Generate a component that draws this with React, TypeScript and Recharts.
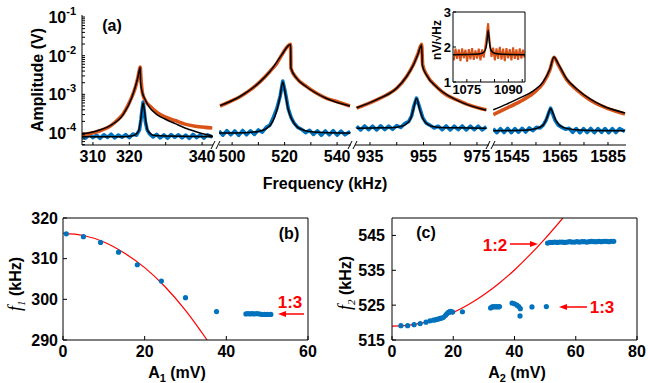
import { ComposedChart, Line, LineChart, Scatter, XAxis, YAxis } from "recharts"

const FONT = '"Liberation Sans", Arial, Helvetica, sans-serif'
const ORANGE = "#D95319"
const BLUE = "#0072BD"
const RED = "#FF0000"

// ---- (a) spectra, four frequency windows ----
const p1OrangeFreq = [307.0, 308.6, 310.6, 312.5, 314.7, 316.6, 318.3, 319.6, 320.7, 321.6, 322.3, 322.7, 323.0, 323.2, 323.6, 324.3, 325.7, 327.6, 329.8, 332.6, 335.3, 338.1, 340.8, 342.8]
const p1OrangeAmp = [9.0e-5, 9.5e-5, 1.05e-4, 1.2e-4, 1.5e-4, 2.1e-4, 3.1e-4, 5.1e-4, 8.6e-4, 1.45e-3, 2.6e-3, 4.0e-3, 5.1e-3, 2.6e-3, 1.1e-3, 7.2e-4, 4.9e-4, 3.4e-4, 2.6e-4, 2.1e-4, 1.7e-4, 1.5e-4, 1.4e-4, 1.35e-4]
const p1OrangeFitFreq = [307.0, 310.6, 314.7, 318.3, 320.7, 322.3, 323.0, 323.1, 323.6, 324.3, 325.7, 327.6, 329.8, 332.6, 335.3, 338.1, 340.8, 342.8]
const p1OrangeFitAmp = [9.5e-5, 1.1e-4, 1.55e-4, 3.0e-4, 8.3e-4, 2.6e-3, 5.0e-3, 2.0e-3, 1.1e-3, 7.5e-4, 4.4e-4, 3.0e-4, 2.3e-4, 1.75e-4, 1.35e-4, 1.1e-4, 9.3e-5, 8.5e-5]
const p1BlueFreq = [307.0, 308.0, 309.0, 310.0, 311.0, 312.0, 313.0, 314.0, 315.0, 316.0, 317.0, 318.0, 319.0, 320.0, 321.0, 322.0, 322.8, 323.2, 323.5, 323.8, 324.1, 324.4, 324.9, 325.5, 326.5, 327.5, 328.5, 329.5, 330.5, 331.5, 332.5, 333.5, 334.5, 335.5, 336.5, 337.5, 338.5, 339.5, 340.5, 341.5, 342.8]
const p1BlueAmp = [8.6e-5, 7.4e-5, 9.2e-5, 7.6e-5, 8.8e-5, 7.3e-5, 9.0e-5, 7.7e-5, 9.3e-5, 7.5e-5, 8.9e-5, 7.8e-5, 9.1e-5, 7.6e-5, 9.4e-5, 8.8e-5, 1.2e-4, 2.2e-4, 4.0e-4, 6.3e-4, 3.8e-4, 2.0e-4, 1.2e-4, 9.6e-5, 7.9e-5, 9.2e-5, 7.5e-5, 8.9e-5, 7.4e-5, 9.1e-5, 7.7e-5, 9.0e-5, 7.5e-5, 8.8e-5, 7.3e-5, 9.2e-5, 7.6e-5, 8.9e-5, 7.4e-5, 9.0e-5, 7.8e-5]
const p1BlueFitFreq = [307, 318, 321, 322.5, 323, 323.4, 323.8, 324.2, 324.6, 325.2, 327, 343]
const p1BlueFitAmp = [8e-5, 8e-5, 8.5e-5, 1.1e-4, 1.8e-4, 3.5e-4, 6.0e-4, 3.5e-4, 1.8e-4, 1.1e-4, 8.6e-5, 8e-5]

const p2OrangeFreq = [495.4, 499.2, 503.0, 506.8, 510.6, 514.4, 517.0, 518.9, 520.5, 521.8, 522.3, 522.4, 524.6, 528.4, 532.2, 536.0, 539.8, 544.9]
const p2OrangeAmp = [5.0e-4, 6.5e-4, 8.7e-4, 1.29e-3, 2.1e-3, 3.9e-3, 6.3e-3, 1.04e-2, 1.55e-2, 1.9e-2, 1.96e-2, 4.7e-3, 2.6e-3, 1.58e-3, 1.07e-3, 7.9e-4, 6.5e-4, 5.0e-4]
const p2OrangeFitFreq = [495.4, 503.0, 510.6, 514.4, 518.9, 521.8, 522.3, 522.4, 524.6, 528.4, 536.0, 544.9]
const p2OrangeFitAmp = [5.1e-4, 8.8e-4, 2.1e-3, 3.9e-3, 1.05e-2, 1.9e-2, 1.95e-2, 4.8e-3, 2.6e-3, 1.55e-3, 7.8e-4, 5.0e-4]
const p2BlueFreq = [495, 496.5, 498, 499.5, 501, 502.5, 504, 505.5, 507, 508.5, 510, 511.5, 513, 514.4, 515.8, 517, 518.3, 519.3, 520.2, 521.4, 522.5, 523.5, 525, 526.5, 528, 529.5, 531, 532.5, 534, 535.5, 537, 538.5, 540, 541.5, 543, 545]
const p2BlueAmp = [1.12e-4, 0.88e-4, 1.15e-4, 0.9e-4, 1.13e-4, 0.87e-4, 1.16e-4, 0.9e-4, 1.14e-4, 0.92e-4, 1.2e-4, 1.05e-4, 1.4e-4, 1.6e-4, 2.6e-4, 4.2e-4, 9e-4, 2.2e-3, 1.2e-3, 4.2e-4, 2.5e-4, 1.85e-4, 1.4e-4, 1.25e-4, 1.02e-4, 1.18e-4, 0.92e-4, 1.14e-4, 0.88e-4, 1.13e-4, 0.9e-4, 1.15e-4, 0.88e-4, 1.12e-4, 0.9e-4, 1.1e-4]
const p2BlueFitFreq = [495, 505, 510, 513, 515.5, 517, 518.3, 519.3, 520.2, 521.4, 523, 525, 528, 535, 545]
const p2BlueFitAmp = [1e-4, 1.02e-4, 1.1e-4, 1.3e-4, 2.0e-4, 3.8e-4, 9e-4, 2.1e-3, 1.1e-3, 4e-4, 2.1e-4, 1.4e-4, 1.15e-4, 1.03e-4, 1.0e-4]

const p3OrangeFreq = [930.0, 933.8, 937.5, 941.2, 945.0, 948.7, 951.2, 953.0, 954.3, 954.7, 956.2, 959.9, 963.6, 967.4, 971.1, 976.0, 978.5]
const p3OrangeAmp = [4.4e-4, 5.6e-4, 7.2e-4, 9.6e-4, 1.44e-3, 2.9e-3, 5.8e-3, 1.15e-2, 1.96e-2, 5.8e-3, 3.2e-3, 1.58e-3, 9.6e-4, 7.2e-4, 5.6e-4, 4.4e-4, 4.0e-4]
const p3OrangeFitFreq = [930.0, 937.5, 945.0, 948.7, 951.2, 953.0, 954.3, 954.6, 956.2, 959.9, 967.4, 978.5]
const p3OrangeFitAmp = [4.5e-4, 7.3e-4, 1.45e-3, 2.9e-3, 5.7e-3, 1.12e-2, 1.9e-2, 5.6e-3, 3.1e-3, 1.55e-3, 7.1e-4, 3.9e-4]
const p3BlueFreq = [930, 931.5, 933, 934.5, 936, 937.5, 939, 940.5, 942, 943.5, 945, 946.5, 948, 949.5, 950.6, 951.4, 952.4, 953.4, 954.7, 956, 957.4, 959, 960.5, 962, 963.5, 965, 966.5, 968, 969.5, 971, 972.5, 974, 975.5, 977, 978.5]
const p3BlueAmp = [1.5e-4, 1.2e-4, 1.52e-4, 1.22e-4, 1.5e-4, 1.2e-4, 1.53e-4, 1.23e-4, 1.5e-4, 1.25e-4, 1.55e-4, 1.4e-4, 1.75e-4, 2.0e-4, 2.8e-4, 5e-4, 8e-4, 5e-4, 2.5e-4, 1.8e-4, 1.6e-4, 1.35e-4, 1.5e-4, 1.22e-4, 1.52e-4, 1.2e-4, 1.5e-4, 1.23e-4, 1.52e-4, 1.2e-4, 1.5e-4, 1.22e-4, 1.5e-4, 1.2e-4, 1.45e-4]
const p3BlueFitFreq = [930, 940, 945, 948, 950, 951.2, 952.4, 953.6, 955, 957, 960, 968, 978.5]
const p3BlueFitAmp = [1.33e-4, 1.36e-4, 1.42e-4, 1.6e-4, 2.2e-4, 4e-4, 7.8e-4, 4e-4, 2.2e-4, 1.6e-4, 1.42e-4, 1.36e-4, 1.33e-4]

const p4OrangeFreq = [1537.2, 1542.8, 1548.3, 1553.9, 1558.0, 1560.8, 1562.5, 1564.3, 1567.8, 1572.0, 1577.5, 1583.0, 1592.1]
const p4OrangeAmp = [3.0e-4, 4.4e-4, 6.5e-4, 1.07e-3, 1.95e-3, 4.3e-3, 9.1e-3, 5.8e-3, 2.4e-3, 1.3e-3, 7.2e-4, 4.8e-4, 3.1e-4]
const p4OrangeFitAmp = [4.0e-4, 5.6e-4, 8.1e-4, 1.23e-3, 2.1e-3, 4.5e-3, 9.3e-3, 6.1e-3, 2.5e-3, 1.38e-3, 7.6e-4, 5.0e-4, 3.3e-4]
const p4BlueFreq = [1537.2, 1538.7, 1540.2, 1541.7, 1543.2, 1544.7, 1546.2, 1547.7, 1549.2, 1550.7, 1552.2, 1553.7, 1555.2, 1556.7, 1558, 1559.3, 1560.2, 1561.1, 1562, 1563, 1564.3, 1565.8, 1567.3, 1568.8, 1570.3, 1571.8, 1573.3, 1574.8, 1576.3, 1577.8, 1579.3, 1580.8, 1582.3, 1583.8, 1585.3, 1586.8, 1588.3, 1589.8, 1592]
const p4BlueAmp = [1.3e-4, 1.02e-4, 1.3e-4, 1.03e-4, 1.32e-4, 1.02e-4, 1.3e-4, 1.05e-4, 1.32e-4, 1.06e-4, 1.35e-4, 1.15e-4, 1.4e-4, 1.35e-4, 1.6e-4, 2.2e-4, 3.2e-4, 4.4e-4, 3.1e-4, 2.1e-4, 1.6e-4, 1.4e-4, 1.25e-4, 1.32e-4, 1.04e-4, 1.3e-4, 1.02e-4, 1.3e-4, 1.03e-4, 1.31e-4, 1.02e-4, 1.3e-4, 1.04e-4, 1.3e-4, 1.02e-4, 1.3e-4, 1.03e-4, 1.3e-4, 1.1e-4]
const p4BlueFitFreq = [1537.2, 1550, 1555, 1558, 1559.5, 1560.5, 1561.1, 1561.8, 1563, 1565, 1568, 1575, 1592]
const p4BlueFitAmp = [1.15e-4, 1.18e-4, 1.3e-4, 1.6e-4, 2.4e-4, 3.6e-4, 4.3e-4, 3.6e-4, 2.3e-4, 1.55e-4, 1.3e-4, 1.18e-4, 1.15e-4]

// inset noise spectrum (nV/sqrt(Hz))
const insetFreq = [1070.3, 1070.9, 1071.5, 1072.1, 1072.7, 1073.3, 1073.9, 1074.5, 1075.1, 1075.7, 1076.3, 1076.9, 1077.5, 1078.1, 1078.7, 1079.3, 1079.9, 1080.5, 1081.1, 1081.6, 1082.0, 1082.4, 1082.7, 1083.0, 1083.4, 1083.9, 1084.5, 1085.1, 1085.7, 1086.3, 1086.9, 1087.5, 1088.1, 1088.7, 1089.3, 1089.9, 1090.5, 1091.1, 1091.7, 1092.3, 1092.9, 1093.5, 1094.1, 1094.7, 1095.3, 1095.8]
const insetNoise = [1.62, 1.95, 1.66, 1.93, 1.6, 1.96, 1.68, 1.92, 1.58, 1.94, 1.65, 1.97, 1.63, 1.9, 1.67, 1.95, 1.62, 1.93, 1.7, 1.98, 2.2, 2.5, 2.68, 2.35, 2.05, 1.72, 1.98, 1.62, 1.96, 1.66, 2.0, 1.64, 1.95, 1.6, 1.97, 1.68, 1.94, 1.62, 1.99, 1.66, 1.93, 1.63, 1.96, 1.67, 1.92, 1.7]
const insetFitFreq = [1070, 1078, 1080.5, 1081.6, 1082.2, 1082.7, 1083.2, 1083.8, 1085, 1088, 1096]
const insetFit = [1.78, 1.79, 1.82, 1.9, 2.1, 2.48, 2.1, 1.9, 1.82, 1.79, 1.78]

// ---- (b) f1 vs A1 ----
const bA = [0.8, 5, 9.2, 13.6, 18.2, 24.1, 30, 37.6, 44.8, 45.3, 45.8, 46.3, 46.8, 47.4, 48.0, 48.7, 49.4, 50.1, 50.9]
const bF = [316.1, 315.4, 314.0, 311.6, 308.5, 304.5, 300.4, 297.0, 296.4, 296.5, 296.4, 296.5, 296.4, 296.5, 296.4, 296.3, 296.3, 296.3, 296.3]
const bFitA = [0, 5, 10, 15, 20, 25, 30, 35.3]
const bFitF = [316.2, 315.7, 314.1, 311.4, 307.8, 303.1, 297.3, 290.0]

// ---- (c) f2 vs A2 ----
const cLowA = [2.9, 5.1, 7.2, 9.2, 11.1, 12.4, 13.5, 14.2, 14.6, 15.1, 15.7, 16.2, 16.8, 17.5, 17.9, 18.4, 18.8, 19.1, 19.5, 19.8, 23.0, 32.2, 32.7, 33.2, 33.7, 34.2, 34.7, 35.1, 39.2, 40.0, 40.8, 41.4, 41.9, 41.8, 45.7, 50.4]
const cLowF = [519.1, 519.1, 519.4, 519.7, 520.1, 520.5, 520.7, 520.8, 520.9, 521.0, 521.2, 521.3, 521.5, 522.1, 522.5, 522.9, 523.1, 523.2, 523.1, 523.0, 523.1, 524.2, 524.5, 524.6, 524.5, 524.6, 524.5, 524.6, 525.6, 525.4, 525.0, 524.6, 524.0, 521.9, 524.5, 524.6]
const cHighA = [50.8, 51.6, 52.4, 53.2, 54.0, 54.8, 55.6, 56.4, 57.2, 58.0, 58.8, 59.6, 60.4, 61.2, 62.0, 62.8, 63.6, 64.4, 65.2, 66.0, 66.8, 67.6, 68.4, 69.2, 70.0, 70.8, 71.6, 72.4]
const cHighF = [542.8, 543.0, 543.0, 543.1, 543.0, 543.1, 543.1, 543.0, 543.1, 543.2, 543.1, 543.1, 543.2, 543.1, 543.2, 543.2, 543.1, 543.2, 543.3, 543.2, 543.2, 543.3, 543.2, 543.3, 543.3, 543.2, 543.3, 543.3]
const cFitA = [0, 5, 10, 15, 20, 25, 30, 35, 40, 45, 50, 55.8]
const cFitF = [519.0, 519.2, 519.9, 521.1, 522.9, 525.2, 528.0, 531.3, 535.1, 539.4, 544.1, 550.0]

const logTicks = [5e-5, 6e-5, 7e-5, 8e-5, 9e-5, 1e-4, 2e-4, 3e-4, 4e-4, 5e-4, 6e-4, 7e-4, 8e-4, 9e-4, 1e-3, 2e-3, 3e-3, 4e-3, 5e-3, 6e-3, 7e-3, 8e-3, 9e-3, 1e-2, 2e-2, 3e-2, 4e-2, 5e-2, 6e-2, 7e-2, 8e-2, 9e-2, 1e-1]

const pairs = (xs: number[], ys: number[], kx: string, ky: string) =>
  xs.map((x, i) => ({ [kx]: x, [ky]: ys[i] }))

const tickFont = { fill: "#000", fontSize: 16, fontWeight: 700, fontFamily: FONT }
const black = { stroke: "#000", strokeWidth: 1 }

function LogTick(props: any) {
  const { x, y, payload } = props
  const e = Math.log10(payload.value)
  if (Math.abs(e - Math.round(e)) > 1e-6) return <g />
  return (
    <text x={x} y={y + 6} textAnchor="end" fill="#000" fontSize={16} fontWeight={700} fontFamily={FONT}>
      10<tspan dy={-8} fontSize={11}>{Math.round(e)}</tspan>
    </text>
  )
}

function Dot(props: any) {
  return <circle cx={props.cx} cy={props.cy} r={2.6} fill={BLUE} />
}

type PanelProps = {
  left: number
  width: number
  domain: [number, number]
  ticks: number[]
  labels: number[]
  orange: any[]
  orangeFit: any[]
  blue: any[]
  blueFit: any[]
  showY?: boolean
}

function SpectrumPanel({ left, width, domain, ticks, labels, orange, orangeFit, blue, blueFit, showY }: PanelProps) {
  const yW = showY ? 82 : 0
  return (
    <div style={{ position: "absolute", left: left - yW, top: 0 }}>
      <LineChart width={width + yW + 16} height={175} margin={{ top: 15, right: 16, bottom: 0, left: 0 }}>
        <XAxis
          type="number"
          dataKey="f"
          domain={domain}
          allowDataOverflow
          ticks={ticks}
          interval={0}
          tickFormatter={(v: number) => (labels.includes(v) ? String(v) : "")}
          tickSize={-3}
          tickMargin={9}
          height={30}
          axisLine={black}
          tickLine={black}
          tick={tickFont}
        />
        <YAxis
          type="number"
          scale="log"
          domain={[4.9e-5, 0.1127]}
          allowDataOverflow
          ticks={logTicks}
          interval={0}
          hide={!showY}
          width={82}
          tick={<LogTick />}
          tickSize={-3}
          tickMargin={9}
          axisLine={black}
          tickLine={black}
        />
        <Line data={blue} dataKey="v" type="linear" stroke={BLUE} strokeWidth={3.6} strokeLinejoin="round" dot={false} isAnimationActive={false} />
        <Line data={orange} dataKey="v" type="monotone" stroke={ORANGE} strokeWidth={3.6} dot={false} isAnimationActive={false} />
        <Line data={blueFit} dataKey="v" type="monotone" stroke="#000" strokeWidth={1.5} dot={false} isAnimationActive={false} />
        <Line data={orangeFit} dataKey="v" type="monotone" stroke="#000" strokeWidth={1.5} dot={false} isAnimationActive={false} />
      </LineChart>
    </div>
  )
}

function Inset() {
  return (
    <div style={{ position: "absolute", left: 425, top: 0 }}>
      <LineChart width={108} height={100} margin={{ top: 10, right: 6, bottom: 0, left: 0 }}>
        <XAxis xAxisId="b" type="number" dataKey="f" domain={[1070, 1096]} allowDataOverflow ticks={[1075, 1080, 1085, 1090, 1095]} interval={0}
          tickFormatter={(v: number) => (v === 1075 || v === 1090 ? String(v) : "")}
          tickSize={-3} tickMargin={6} height={18} axisLine={black} tickLine={black} tick={{ ...tickFont, fontSize: 13 }} />
        <XAxis xAxisId="t" orientation="top" type="number" dataKey="f" domain={[1070, 1096]} allowDataOverflow ticks={[1075, 1080, 1085, 1090, 1095]}
          interval={0} tick={false} tickSize={-3} height={2} axisLine={black} tickLine={black} />
        <YAxis yAxisId="l" type="number" domain={[1, 3]} allowDataOverflow ticks={[1, 2, 3]} interval={0} width={28}
          tickSize={-3} tickMargin={5} axisLine={black} tickLine={black} tick={{ ...tickFont, fontSize: 13 }} />
        <YAxis yAxisId="r" orientation="right" type="number" domain={[1, 3]} allowDataOverflow ticks={[1, 2, 3]} interval={0} width={2}
          tick={false} tickSize={-3} axisLine={black} tickLine={black} />
        <Line xAxisId="b" yAxisId="l" data={pairs(insetFreq, insetNoise, "f", "v")} dataKey="v" type="linear" stroke={ORANGE} strokeWidth={2} dot={false} isAnimationActive={false} />
        <Line xAxisId="b" yAxisId="l" data={pairs(insetFitFreq, insetFit, "f", "v")} dataKey="v" type="monotone" stroke="#000" strokeWidth={1.5} dot={false} isAnimationActive={false} />
      </LineChart>
    </div>
  )
}

type FreqPanelProps = {
  left: number
  xDomain: [number, number]
  xTicks: number[]
  yDomain: [number, number]
  yTicks: number[]
  yWidth: number
  yMargin: number
  points: any[][]
  fit: any[]
}

function FreqPanel({ left, xDomain, xTicks, yDomain, yTicks, yWidth, yMargin, points, fit }: FreqPanelProps) {
  return (
    <div style={{ position: "absolute", left, top: 200 }}>
      <ComposedChart width={yWidth + 255} height={183} margin={{ top: 13, right: 5, bottom: 0, left: 0 }}>
        <XAxis xAxisId="b" type="number" dataKey="a" domain={xDomain} allowDataOverflow ticks={xTicks} interval={0}
          tickSize={-4} tickMargin={10} height={43} axisLine={black} tickLine={black} tick={tickFont} />
        <XAxis xAxisId="t" orientation="top" type="number" dataKey="a" domain={xDomain} allowDataOverflow ticks={xTicks} interval={0}
          tick={false} tickSize={-4} height={5} axisLine={black} tickLine={black} />
        <YAxis yAxisId="l" type="number" dataKey="f" domain={yDomain} allowDataOverflow ticks={yTicks} interval={0} width={yWidth}
          tickSize={-4} tickMargin={yMargin} axisLine={black} tickLine={black} tick={tickFont} />
        <YAxis yAxisId="r" orientation="right" type="number" dataKey="f" domain={yDomain} allowDataOverflow ticks={yTicks} interval={0} width={5}
          tick={false} tickSize={-4} axisLine={black} tickLine={black} />
        {points.map((pts, i) => (
          <Scatter key={i} xAxisId="b" yAxisId="l" data={pts} dataKey="f" fill={BLUE} shape={<Dot />} isAnimationActive={false} />
        ))}
        <Line xAxisId="b" yAxisId="l" data={fit} dataKey="f" type="monotone" stroke={RED} strokeWidth={1.2} dot={false} isAnimationActive={false} />
      </ComposedChart>
    </div>
  )
}

function Arrow({ x1, x2, y }: { x1: number; x2: number; y: number }) {
  const d = x2 > x1 ? -1 : 1
  return (
    <g>
      <line x1={x1} y1={y} x2={x2 + d * 6} y2={y} stroke={RED} strokeWidth={1.5} />
      <polygon points={`${x2},${y} ${x2 + d * 8},${y - 3} ${x2 + d * 8},${y + 3}`} fill={RED} />
    </g>
  )
}

function Break({ x }: { x: number }) {
  return (
    <g stroke="#000" strokeWidth={1}>
      <line x1={x - 5} y1={149} x2={x - 1} y2={141} />
      <line x1={x} y1={149} x2={x + 4} y2={141} />
    </g>
  )
}

export default function App() {
  const bold = { fontFamily: FONT, fontWeight: 700, fill: "#000" }
  return (
    <div style={{ position: "absolute", left: 0, top: 0, width: 648, height: 383, background: "#fff", overflow: "hidden" }}>
      <SpectrumPanel
        showY
        left={82}
        width={131}
        domain={[307, 343]}
        ticks={[310, 320, 330, 340]}
        labels={[310, 320, 340]}
        orange={pairs(p1OrangeFreq, p1OrangeAmp, "f", "v")}
        orangeFit={pairs(p1OrangeFitFreq, p1OrangeFitAmp, "f", "v")}
        blue={pairs(p1BlueFreq, p1BlueAmp, "f", "v")}
        blueFit={pairs(p1BlueFitFreq, p1BlueFitAmp, "f", "v")}
      />
      <SpectrumPanel
        left={219}
        width={132}
        domain={[495, 545.3]}
        ticks={[500, 510, 520, 530, 540]}
        labels={[500, 520, 540]}
        orange={pairs(p2OrangeFreq, p2OrangeAmp, "f", "v")}
        orangeFit={pairs(p2OrangeFitFreq, p2OrangeFitAmp, "f", "v")}
        blue={pairs(p2BlueFreq, p2BlueAmp, "f", "v")}
        blueFit={pairs(p2BlueFitFreq, p2BlueFitAmp, "f", "v")}
      />
      <SpectrumPanel
        left={355}
        width={134}
        domain={[929.4, 979.5]}
        ticks={[935, 945, 955, 965, 975]}
        labels={[935, 955, 975]}
        orange={pairs(p3OrangeFreq, p3OrangeAmp, "f", "v")}
        orangeFit={pairs(p3OrangeFitFreq, p3OrangeFitAmp, "f", "v")}
        blue={pairs(p3BlueFreq, p3BlueAmp, "f", "v")}
        blueFit={pairs(p3BlueFitFreq, p3BlueFitAmp, "f", "v")}
      />
      <SpectrumPanel
        left={493}
        width={133}
        domain={[1537.1, 1592.5]}
        ticks={[1545, 1555, 1565, 1575, 1585]}
        labels={[1545, 1565, 1585]}
        orange={pairs(p4OrangeFreq, p4OrangeAmp, "f", "v")}
        orangeFit={pairs(p4OrangeFreq, p4OrangeFitAmp, "f", "v")}
        blue={pairs(p4BlueFreq, p4BlueAmp, "f", "v")}
        blueFit={pairs(p4BlueFitFreq, p4BlueFitAmp, "f", "v")}
      />
      <Inset />
      <FreqPanel
        left={0}
        xDomain={[0, 60]}
        xTicks={[0, 20, 40, 60]}
        yDomain={[290, 320]}
        yTicks={[290, 300, 310, 320]}
        yWidth={63}
        yMargin={9}
        points={[pairs(bA, bF, "a", "f")]}
        fit={pairs(bFitA, bFitF, "a", "f")}
      />
      <FreqPanel
        left={330}
        xDomain={[0, 80]}
        xTicks={[0, 20, 40, 60, 80]}
        yDomain={[515, 550]}
        yTicks={[515, 525, 535, 545]}
        yWidth={62}
        yMargin={11}
        points={[pairs(cLowA, cLowF, "a", "f"), pairs(cHighA, cHighF, "a", "f")]}
        fit={pairs(cFitA, cFitF, "a", "f")}
      />
      <svg width={648} height={383} style={{ position: "absolute", left: 0, top: 0, pointerEvents: "none" }}>
        <text transform="translate(43,80) rotate(-90)" textAnchor="middle" fontSize={16} {...bold}>Amplitude (V)</text>
        <text x={112} y={31} textAnchor="middle" fontSize={16} {...bold}>(a)</text>
        <text x={325} y={189} textAnchor="middle" fontSize={16} {...bold}>Frequency (kHz)</text>
        <text transform="translate(441,40) rotate(-90)" textAnchor="middle" fontSize={12} {...bold}>nV/√Hz</text>
        <Break x={216} />
        <Break x={353} />
        <Break x={491} />

        <text x={289} y={239} textAnchor="middle" fontSize={16} {...bold}>(b)</text>
        <text x={426} y={238} textAnchor="middle" fontSize={16} {...bold}>(c)</text>

        <text transform="translate(21,284) rotate(-90)" textAnchor="middle" fontSize={16} {...bold}>
          <tspan fontFamily='"Liberation Serif", "Times New Roman", serif' fontStyle="italic" fontWeight={400} fontSize={18}>f</tspan>
          <tspan fontFamily='"Liberation Serif", "Times New Roman", serif' fontStyle="italic" fontWeight={400} fontSize={11} dy={4}>1</tspan>
          <tspan dy={-4}> (kHz)</tspan>
        </text>
        <text x={177} y={378} textAnchor="middle" fontSize={16} {...bold}>
          A<tspan fontSize={11} dy={4}>1</tspan><tspan dy={-4}> (mV)</tspan>
        </text>
        <text transform="translate(351,283) rotate(-90)" textAnchor="middle" fontSize={16} {...bold}>
          <tspan fontFamily='"Liberation Serif", "Times New Roman", serif' fontStyle="italic" fontWeight={400} fontSize={18}>f</tspan>
          <tspan fontFamily='"Liberation Serif", "Times New Roman", serif' fontStyle="italic" fontWeight={400} fontSize={11} dy={4}>2</tspan>
          <tspan dy={-4}> (kHz)</tspan>
        </text>
        <text x={517} y={378} textAnchor="middle" fontSize={16} {...bold}>
          A<tspan fontSize={11} dy={4}>2</tspan><tspan dy={-4}> (mV)</tspan>
        </text>

        <text x={290} y={308} textAnchor="middle" fontSize={17} fontFamily={FONT} fontWeight={700} fill={RED}>1:3</text>
        <Arrow x1={304} x2={278} y={314} />
        <text x={495} y={251} textAnchor="middle" fontSize={17} fontFamily={FONT} fontWeight={700} fill={RED}>1:2</text>
        <Arrow x1={510} x2={538} y={244} />
        <text x={602} y={313} textAnchor="middle" fontSize={17} fontFamily={FONT} fontWeight={700} fill={RED}>1:3</text>
        <Arrow x1={587} x2={559} y={307} />
      </svg>
    </div>
  )
}
